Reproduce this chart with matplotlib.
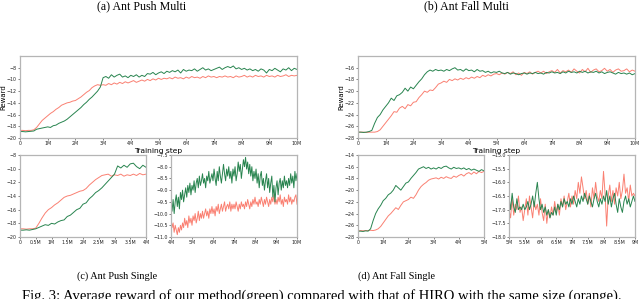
import numpy as np
import matplotlib
matplotlib.use("Agg")
import matplotlib.pyplot as plt

# ---------------- data ----------------
# (a) Ant Push Multi, x = 0..10M step 0.1M
push_multi_x = np.round(np.arange(0, 10.0001, 0.1), 2)
push_multi_green = [
    -18.9, -18.9, -18.95, -18.9, -18.85, -18.8, -18.5, -18.4, -18.3, -18.2, -18.1,
    -18.2, -17.9, -17.8, -17.5, -17.3, -17.1, -16.8, -16.4, -16.0, -15.6,
    -15.2, -14.8, -14.3, -13.9, -13.4, -13.0, -12.5, -12.0, -11.3, -9.7,
    -9.5, -9.8, -9.2, -9.6, -9.3, -9.1, -9.6, -9.4, -9.7, -9.3,
    -9.5, -9.2, -9.6, -9.3, -9.5, -9.0, -9.1, -8.8, -9.2, -8.9,
    -8.7, -9.0, -8.6, -8.8, -8.5, -8.7, -8.4, -8.9, -8.3, -8.6,
    -8.4, -8.5, -8.2, -8.6, -8.3, -8.0, -8.4, -8.2, -8.5, -8.3,
    -8.1, -7.9, -8.3, -8.0, -7.8, -8.0, -7.7, -8.2, -8.0, -8.3,
    -8.1, -8.4, -8.2, -8.5, -8.3, -8.6, -8.2, -8.4, -8.9, -8.3,
    -8.5, -8.1, -8.4, -8.7, -8.2, -8.4, -8.0, -8.5, -8.1, -8.3]
push_multi_orange = [
    -18.7, -18.7, -18.75, -18.7, -18.7, -18.6, -18.2, -17.6, -17.0, -16.6, -16.2,
    -15.8, -15.5, -15.1, -14.8, -14.4, -14.2, -14.0, -13.9, -13.7, -13.6,
    -13.3, -13.0, -12.6, -12.2, -11.9, -11.4, -11.1, -10.9, -11.0, -10.9,
    -11.0, -10.7, -10.9, -10.6, -10.8, -10.5, -10.7, -10.4, -10.6, -10.4,
    -10.2, -10.5, -10.3, -10.1, -10.3, -10.0, -10.2, -9.9, -10.1, -9.8,
    -10.0, -9.8, -9.9, -9.7, -9.9, -9.6, -9.8, -9.7, -9.9, -9.6,
    -9.8, -9.5, -9.7, -9.6, -9.8, -9.5, -9.7, -9.4, -9.6, -9.5,
    -9.7, -9.5, -9.6, -9.4, -9.6, -9.5, -9.7, -9.4, -9.6, -9.5,
    -9.3, -9.6, -9.4, -9.6, -9.3, -9.5, -9.4, -9.6, -9.3, -9.5,
    -9.4, -9.6, -9.3, -9.5, -9.4, -9.2, -9.5, -9.3, -9.4, -9.3]

# (b) Ant Fall Multi, x = 0..10M step 0.1M
fall_multi_x = np.round(np.arange(0, 10.0001, 0.1), 2)
fall_multi_green = [
    -27.0, -27.0, -27.05, -27.0, -26.9, -26.7, -25.5, -24.5, -24.0, -23.2, -22.6,
    -22.0, -21.2, -21.6, -20.8, -20.6, -20.2, -19.5, -20.0, -19.3, -19.6,
    -19.0, -18.4, -17.9, -17.2, -16.7, -16.4, -16.6, -16.3, -16.5, -16.4,
    -16.6, -16.3, -16.5, -16.2, -16.0, -16.4, -16.3, -16.6, -16.2, -16.5,
    -16.4, -16.7, -16.3, -16.6, -16.5, -16.8, -16.6, -16.9, -16.7, -16.8,
    -16.6, -16.9, -17.0, -16.8, -17.1, -16.9, -17.0, -17.2, -17.0, -16.9,
    -17.1, -16.9, -17.0, -16.8, -17.0, -16.9, -17.1, -16.8, -16.9, -16.7,
    -16.9, -16.8, -17.0, -16.7, -16.9, -16.6, -16.8, -16.7, -16.9, -16.6,
    -16.8, -16.6, -16.9, -16.7, -16.8, -16.6, -16.9, -16.7, -17.0, -16.8,
    -16.7, -16.9, -17.1, -16.8, -17.0, -16.9, -17.1, -16.9, -17.2, -17.0]
fall_multi_orange = [
    -27.0, -27.0, -27.0, -27.05, -27.0, -27.0, -27.0, -26.9, -26.6, -26.0, -25.4,
    -24.8, -24.2, -23.5, -23.6, -22.9, -22.6, -23.0, -22.3, -22.5, -21.9,
    -21.8, -21.1, -20.6, -20.0, -20.2, -19.8, -19.9, -19.4, -18.8, -18.6,
    -18.3, -18.5, -18.0, -18.2, -17.9, -18.1, -17.8, -18.0, -17.7, -17.9,
    -17.6, -17.8, -17.5, -17.7, -17.3, -17.5, -17.2, -17.4, -17.1, -17.0,
    -17.2, -16.9, -17.1, -16.8, -17.0, -16.7, -17.2, -16.9, -17.3, -16.8,
    -17.0, -16.7, -17.1, -16.8, -16.6, -16.9, -16.6, -17.0, -16.7, -16.5,
    -16.8, -16.3, -16.9, -16.5, -16.7, -16.4, -16.8, -16.2, -16.6, -16.9,
    -16.3, -16.7, -16.1, -16.8, -16.4, -16.2, -16.7, -16.5, -16.1, -16.6,
    -16.3, -16.8, -16.4, -16.2, -16.6, -16.5, -16.2, -16.7, -16.4, -16.6]

# (c) Ant Push Single, part 1: x = 0..4M step 0.1M
push_single1_x = np.round(np.arange(0, 4.0001, 0.1), 2)
push_single1_green = [
    -19.0, -19.0, -18.95, -19.0, -18.9, -18.8, -18.6, -18.4, -18.2, -18.3, -18.0,
    -18.1, -17.8, -17.6, -17.5, -17.0, -16.8, -16.4, -16.0, -15.8, -15.2,
    -15.0, -14.4, -14.0, -13.5, -13.2, -12.8, -12.3, -11.8, -11.3, -10.8,
    -9.6, -9.9, -9.5, -9.8, -9.3, -9.2, -9.7, -10.0, -9.5, -9.8]
push_single1_orange = [
    -18.8, -18.8, -18.85, -18.8, -18.8, -18.7, -18.0, -17.2, -16.5, -16.0, -15.7,
    -15.3, -15.0, -14.6, -14.2, -14.0, -13.9, -13.7, -13.5, -13.3, -13.2,
    -12.9, -12.4, -12.0, -11.6, -11.3, -11.0, -10.9, -10.8, -11.1, -10.9,
    -11.0, -10.8, -11.1, -10.9, -11.0, -10.8, -11.0, -10.7, -10.9, -10.8]

# (c) Ant Push Single, part 2: x = 4..10M step 0.05M
push_single2_x = np.round(np.arange(4.0, 10.0001, 0.05), 2)
push_single2_green = [
    -9.6, -9.9, -9.4, -10.0, -9.5, -9.2, -9.7, -9.3, -9.8, -9.1,
    -9.4, -9.0, -9.5, -9.2, -8.9, -9.3, -8.8, -9.1, -8.7, -9.2,
    -8.8, -9.0, -8.6, -9.1, -8.7, -8.5, -8.9, -8.4, -8.8, -8.6,
    -8.3, -8.7, -8.5, -8.9, -8.4, -8.6, -8.2, -8.7, -8.5, -8.3,
    -8.6, -8.1, -8.5, -8.8, -8.2, -8.6, -8.0, -8.4, -8.7, -8.3,
    -7.9, -8.3, -8.6, -8.1, -8.4, -8.0, -8.5, -8.2, -8.7, -8.1,
    -8.4, -8.0, -8.6, -8.3, -7.8, -8.2, -7.9, -8.5, -8.1, -7.7,
    -8.0, -7.6, -8.1, -7.8, -8.3, -7.9, -8.4, -8.0, -8.6, -8.2,
    -8.5, -8.1, -8.7, -8.3, -8.9, -8.4, -8.2, -8.8, -8.5, -9.0,
    -8.6, -8.3, -8.9, -8.5, -9.1, -8.7, -8.4, -9.3, -8.8, -9.5,
    -8.9, -8.6, -9.2, -8.7, -8.5, -9.0, -8.6, -8.9, -8.4, -8.8,
    -8.6, -8.9, -8.5, -8.8, -8.3, -8.7, -8.4, -8.9, -8.2, -8.6,
    -8.3]
push_single2_orange = [
    -10.2, -10.6, -10.4, -10.8, -10.5, -10.7, -10.9, -10.6, -10.8, -10.5,
    -10.7, -10.4, -10.6, -10.2, -10.5, -10.3, -10.6, -10.1, -10.4, -10.2,
    -10.5, -10.1, -10.3, -10.0, -10.4, -10.2, -9.9, -10.3, -10.0, -10.2,
    -9.9, -10.2, -10.0, -9.8, -10.1, -9.9, -10.2, -9.8, -10.0, -9.7,
    -10.0, -9.8, -10.1, -9.7, -9.9, -9.6, -10.0, -9.8, -9.6, -9.9,
    -9.7, -9.5, -9.9, -9.7, -9.6, -9.8, -9.5, -9.9, -9.6, -9.8,
    -9.6, -9.8, -9.5, -9.7, -9.9, -9.6, -9.8, -9.5, -9.7, -9.6,
    -9.8, -9.5, -9.7, -9.4, -9.6, -9.8, -9.5, -9.7, -9.4, -9.6,
    -9.3, -9.6, -9.5, -9.7, -9.4, -9.6, -9.3, -9.5, -9.7, -9.4,
    -9.6, -9.3, -9.5, -9.7, -9.4, -9.6, -9.3, -9.5, -9.2, -9.6,
    -9.4, -9.6, -9.3, -9.5, -9.2, -9.6, -9.4, -9.7, -9.3, -9.5,
    -9.4, -9.6, -9.2, -9.5, -9.3, -9.6, -9.4, -9.5, -9.3, -9.2,
    -9.6]

# (d) Ant Fall Single, part 1: x = 0..5M step 0.1M
fall_single1_x = np.round(np.arange(0, 5.0001, 0.1), 2)
fall_single1_green = [
    -27.0, -27.0, -27.05, -26.95, -27.0, -26.6, -25.2, -24.0, -23.2, -22.6, -21.8,
    -21.4, -20.8, -20.5, -20.0, -19.2, -19.6, -20.0, -19.4, -18.8, -18.6,
    -18.0, -17.5, -17.0, -16.4, -16.2, -16.0, -16.3, -16.1, -16.4, -16.2,
    -16.4, -16.1, -16.3, -16.0, -15.9, -16.2, -16.4, -16.1, -16.3, -16.2,
    -16.4, -16.2, -16.5, -16.3, -16.6, -16.4, -16.6, -16.8, -16.5, -16.7]
fall_single1_orange = [
    -27.0, -26.9, -26.95, -26.9, -26.9, -26.85, -26.9, -26.8, -26.6, -26.2, -25.6,
    -25.0, -24.4, -24.0, -23.5, -23.0, -23.3, -22.6, -22.0, -21.8, -21.6,
    -21.2, -21.4, -20.8, -20.0, -19.4, -19.0, -18.7, -18.3, -18.1, -18.0,
    -17.9, -18.1, -17.8, -18.0, -17.7, -17.9, -18.0, -17.6, -17.8, -17.5,
    -17.3, -17.6, -17.2, -17.0, -17.3, -16.9, -17.2, -16.8, -17.0, -16.8]

# (d) Ant Fall Single, part 2: x = 5..9M step 0.05M
fall_single2_x = np.round(np.arange(5.0, 9.0001, 0.05), 2)
fall_single2_green = [
    -16.5, -17.0, -16.4, -16.9, -17.1, -16.6, -17.0, -16.9, -17.0, -16.8,
    -17.0, -16.9, -16.7, -17.0, -16.8, -16.5, -16.9, -16.4, -16.0, -16.6,
    -17.0, -16.8, -17.1, -16.9, -17.2, -17.0, -17.3, -17.1, -17.2, -16.9,
    -17.2, -16.8, -17.0, -16.7, -16.9, -16.6, -16.8, -16.7, -16.9, -16.6,
    -16.8, -16.5, -16.7, -16.9, -16.6, -16.8, -16.5, -16.7, -16.4, -16.6,
    -16.8, -16.5, -16.7, -16.9, -16.6, -16.4, -16.7, -16.9, -16.6, -16.8,
    -16.5, -16.7, -16.3, -16.8, -16.5, -16.9, -16.6, -16.4, -16.8, -17.1,
    -16.6, -16.9, -17.1, -16.7, -16.5, -16.8, -16.6, -16.9, -16.7, -16.5,
    -16.7]
fall_single2_orange = [
    -17.0, -17.3, -16.6, -17.2, -16.8, -17.0, -16.5, -17.1, -16.9, -17.4,
    -17.0, -16.6, -17.2, -16.5, -16.9, -17.3, -16.7, -17.0, -16.8, -17.2,
    -16.6, -17.1, -17.4, -16.8, -17.5, -17.0, -17.3, -16.9, -17.2, -16.7,
    -17.1, -16.8, -17.2, -16.6, -16.9, -16.5, -17.0, -16.7, -16.4, -16.9,
    -16.5, -16.8, -16.3, -16.6, -16.0, -16.4, -15.8, -16.2, -16.6, -16.3,
    -16.8, -16.4, -16.9, -16.2, -16.6, -16.0, -16.5, -16.7, -16.3, -16.6,
    -15.6, -16.4, -17.6, -16.5, -16.1, -16.7, -16.3, -16.8, -16.2, -16.5,
    -16.0, -16.6, -16.3, -15.7, -16.4, -16.2, -16.7, -16.1, -16.5, -16.4,
    -16.5]

# tick labels
ticks_0_10 = [0, 1, 2, 3, 4, 5, 6, 7, 8, 9, 10]
labels_0_10 = ["0", "1M", "2M", "3M", "4M", "5M", "6M", "7M", "8M", "9M", "10M"]
ticks_0_4 = [0, 0.5, 1, 1.5, 2, 2.5, 3, 3.5, 4]
labels_0_4 = ["0", "0.5M", "1M", "1.5M", "2M", "2.5M", "3M", "3.5M", "4M"]
ticks_4_10 = [4, 5, 6, 7, 8, 9, 10]
labels_4_10 = ["4M", "5M", "6M", "7M", "8M", "9M", "10M"]
ticks_0_5 = [0, 1, 2, 3, 4, 5]
labels_0_5 = ["0", "1M", "2M", "3M", "4M", "5M"]
ticks_5_9 = [5, 5.5, 6, 6.5, 7, 7.5, 8, 8.5, 9]
labels_5_9 = ["5M", "5.5M", "6M", "6.5M", "7M", "7.5M", "8M", "8.5M", "9M"]

captions = ["(a) Ant Push Multi", "(b) Ant Fall Multi", "(c) Ant Push Single", "(d) Ant Fall Single"]
fig_caption = "Fig. 3: Average reward of our method(green) compared with that of HIRO with the same size (orange)."

GREEN = "#28844f"
ORANGE = "#fa8072"

# ---------------- figure ----------------
W, H = 640, 299
fig = plt.figure(figsize=(6.4, 2.99), dpi=100)


def px_axes(l, t, r, b):
    return fig.add_axes([l / W, 1 - b / H, (r - l) / W, (b - t) / H])


def style(ax, xticks, xlabels, xlim, ylim, yticks, yfmt):
    ax.set_xlim(*xlim)
    ax.set_ylim(*ylim)
    ax.set_xticks(xticks)
    ax.set_xticklabels(xlabels)
    ax.set_yticks(yticks)
    ax.set_yticklabels([yfmt.format(v).replace("-", "\u2212") for v in yticks])
    ax.tick_params(labelsize=3.4, length=1.5, width=0.4, pad=0.8, colors="#222222")
    for s in ax.spines.values():
        s.set_color("#b5b5b5")
        s.set_linewidth(0.9)


def draw(ax, x, g, o):
    ax.plot(x, o, color=ORANGE, lw=0.7)
    ax.plot(x, g, color=GREEN, lw=0.7)


ax1 = px_axes(20, 56, 297, 138)
draw(ax1, push_multi_x, push_multi_green, push_multi_orange)
style(ax1, ticks_0_10, labels_0_10, (0, 10), (-20, -6), list(range(-20, -7, 2)), "{:d}")
ax1.set_ylabel("Reward", fontsize=5.0)
ax1.yaxis.set_label_coords(-0.049, 0.5)
ax1.set_xlabel("Training step", fontsize=5.4, labelpad=1)

ax2 = px_axes(358, 56, 635, 138)
draw(ax2, fall_multi_x, fall_multi_green, fall_multi_orange)
style(ax2, ticks_0_10, labels_0_10, (0, 10), (-28, -14), list(range(-28, -15, 2)), "{:d}")
ax2.set_ylabel("Reward", fontsize=5.0)
ax2.yaxis.set_label_coords(-0.049, 0.5)
ax2.set_xlabel("Training step", fontsize=5.4, labelpad=1)

ax3 = px_axes(20, 155, 146, 237)
draw(ax3, push_single1_x, push_single1_green, push_single1_orange)
style(ax3, ticks_0_4, labels_0_4, (0, 4), (-20, -8), list(range(-20, -7, 2)), "{:d}")

ax4 = px_axes(171, 155, 297, 237)
draw(ax4, push_single2_x, push_single2_green, push_single2_orange)
style(ax4, ticks_4_10, labels_4_10, (4, 10), (-11, -7.5), [-11.0, -10.5, -10.0, -9.5, -9.0, -8.5, -8.0, -7.5], "{:.1f}")

ax5 = px_axes(358, 155, 484, 237)
draw(ax5, fall_single1_x, fall_single1_green, fall_single1_orange)
style(ax5, ticks_0_5, labels_0_5, (0, 5), (-28, -14), list(range(-28, -13, 2)), "{:d}")

ax6 = px_axes(509, 155, 635, 237)
draw(ax6, fall_single2_x, fall_single2_green, fall_single2_orange)
style(ax6, ticks_5_9, labels_5_9, (5, 9), (-18, -15), [-18.0, -17.5, -17.0, -16.5, -16.0, -15.5, -15.0], "{:.1f}")

serif = ["Liberation Serif", "DejaVu Serif"]
fig.text(142 / W, 1 - 6 / H, captions[0], ha="center", va="center", fontsize=8.6, family=serif)
fig.text(466 / W, 1 - 6 / H, captions[1], ha="center", va="center", fontsize=8.6, family=serif)
fig.text(117 / W, 1 - 276 / H, captions[2], ha="center", va="center", fontsize=7.4, family=serif)
fig.text(397 / W, 1 - 276 / H, captions[3], ha="center", va="center", fontsize=7.4, family=serif)
fig.text(22 / W, 1 - 300 / H, fig_caption, ha="left", va="baseline", fontsize=10.5, family=serif)

fig.savefig("out.png", dpi=100)
